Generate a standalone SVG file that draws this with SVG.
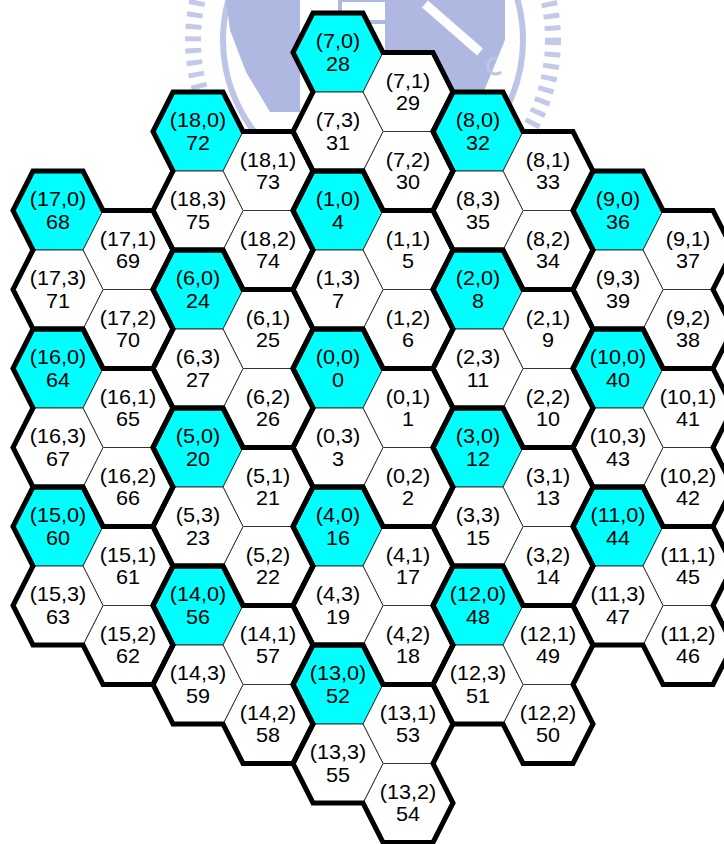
<svg xmlns="http://www.w3.org/2000/svg" width="724" height="844" viewBox="0 0 724 844">
<style>
.w{fill:#ffffff;stroke:#333333;stroke-width:1}
.c{fill:#00ffff;stroke:#333333;stroke-width:1}
.t{font-family:"Liberation Sans",Arial,sans-serif;font-size:20px;text-anchor:middle;fill:#000000}
.cl{fill:none;stroke:#000000;stroke-width:5;stroke-linejoin:miter}
</style>
<defs>
<polygon id="hex" points="45,0 25,39.5 -25,39.5 -45,0 -25,-39.5 25,-39.5"/>
<path id="clu" d="M-45,0 L-25,-39.5 L25,-39.5 L45,0 L95,0 L115,39.5 L95,79 L115,118.5 L95,158 L45,158 L25,118.5 L-25,118.5 L-45,79 L-25,39.5 Z"/>
</defs>
<rect x="0" y="0" width="724" height="844" fill="#ffffff"/>
<g id="watermark">
<circle cx="373" cy="40" r="180" fill="none" stroke="#c3cae8" stroke-width="16" stroke-dasharray="5 7"/>
<circle cx="373" cy="40" r="150" fill="none" stroke="#bcc4e7" stroke-width="6"/>
<polygon fill="#aeb8e1" points="226,0 300,0 300,112 270,112 246,72 230,30"/>
<polygon fill="#aeb8e1" points="385,0 505,0 505,40 482,96 440,112 385,112"/>
<line x1="425" y1="4" x2="480" y2="52" stroke="#ffffff" stroke-width="9"/>
<rect x="340" y="0" width="60" height="22" fill="none" stroke="#aeb8e1" stroke-width="4"/>
<path d="M497,58 a8,8 0 1 0 4,14" fill="none" stroke="#bcc4e7" stroke-width="3"/>
</g>
<g id="cells">
<g id="n0_0" transform="translate(338,368.5)"><use href="#hex" class="c"/><text class="t" y="-4.5" transform="scale(1.08,1)">(0,0)</text><text class="t" y="18.5" transform="scale(1.08,1)">0</text></g>
<g id="n0_1" transform="translate(408,408)"><use href="#hex" class="w"/><text class="t" y="-4.5" transform="scale(1.08,1)">(0,1)</text><text class="t" y="18.5" transform="scale(1.08,1)">1</text></g>
<g id="n0_2" transform="translate(408,487)"><use href="#hex" class="w"/><text class="t" y="-4.5" transform="scale(1.08,1)">(0,2)</text><text class="t" y="18.5" transform="scale(1.08,1)">2</text></g>
<g id="n0_3" transform="translate(338,447.5)"><use href="#hex" class="w"/><text class="t" y="-4.5" transform="scale(1.08,1)">(0,3)</text><text class="t" y="18.5" transform="scale(1.08,1)">3</text></g>

<g id="n1_0" transform="translate(338,210.5)"><use href="#hex" class="c"/><text class="t" y="-4.5" transform="scale(1.08,1)">(1,0)</text><text class="t" y="18.5" transform="scale(1.08,1)">4</text></g>
<g id="n1_1" transform="translate(408,250)"><use href="#hex" class="w"/><text class="t" y="-4.5" transform="scale(1.08,1)">(1,1)</text><text class="t" y="18.5" transform="scale(1.08,1)">5</text></g>
<g id="n1_2" transform="translate(408,329)"><use href="#hex" class="w"/><text class="t" y="-4.5" transform="scale(1.08,1)">(1,2)</text><text class="t" y="18.5" transform="scale(1.08,1)">6</text></g>
<g id="n1_3" transform="translate(338,289.5)"><use href="#hex" class="w"/><text class="t" y="-4.5" transform="scale(1.08,1)">(1,3)</text><text class="t" y="18.5" transform="scale(1.08,1)">7</text></g>

<g id="n2_0" transform="translate(478,289.5)"><use href="#hex" class="c"/><text class="t" y="-4.5" transform="scale(1.08,1)">(2,0)</text><text class="t" y="18.5" transform="scale(1.08,1)">8</text></g>
<g id="n2_1" transform="translate(548,329)"><use href="#hex" class="w"/><text class="t" y="-4.5" transform="scale(1.08,1)">(2,1)</text><text class="t" y="18.5" transform="scale(1.08,1)">9</text></g>
<g id="n2_2" transform="translate(548,408)"><use href="#hex" class="w"/><text class="t" y="-4.5" transform="scale(1.08,1)">(2,2)</text><text class="t" y="18.5" transform="scale(1.08,1)">10</text></g>
<g id="n2_3" transform="translate(478,368.5)"><use href="#hex" class="w"/><text class="t" y="-4.5" transform="scale(1.08,1)">(2,3)</text><text class="t" y="18.5" transform="scale(1.08,1)">11</text></g>

<g id="n3_0" transform="translate(478,447.5)"><use href="#hex" class="c"/><text class="t" y="-4.5" transform="scale(1.08,1)">(3,0)</text><text class="t" y="18.5" transform="scale(1.08,1)">12</text></g>
<g id="n3_1" transform="translate(548,487)"><use href="#hex" class="w"/><text class="t" y="-4.5" transform="scale(1.08,1)">(3,1)</text><text class="t" y="18.5" transform="scale(1.08,1)">13</text></g>
<g id="n3_2" transform="translate(548,566)"><use href="#hex" class="w"/><text class="t" y="-4.5" transform="scale(1.08,1)">(3,2)</text><text class="t" y="18.5" transform="scale(1.08,1)">14</text></g>
<g id="n3_3" transform="translate(478,526.5)"><use href="#hex" class="w"/><text class="t" y="-4.5" transform="scale(1.08,1)">(3,3)</text><text class="t" y="18.5" transform="scale(1.08,1)">15</text></g>

<g id="n4_0" transform="translate(338,526.5)"><use href="#hex" class="c"/><text class="t" y="-4.5" transform="scale(1.08,1)">(4,0)</text><text class="t" y="18.5" transform="scale(1.08,1)">16</text></g>
<g id="n4_1" transform="translate(408,566)"><use href="#hex" class="w"/><text class="t" y="-4.5" transform="scale(1.08,1)">(4,1)</text><text class="t" y="18.5" transform="scale(1.08,1)">17</text></g>
<g id="n4_2" transform="translate(408,645)"><use href="#hex" class="w"/><text class="t" y="-4.5" transform="scale(1.08,1)">(4,2)</text><text class="t" y="18.5" transform="scale(1.08,1)">18</text></g>
<g id="n4_3" transform="translate(338,605.5)"><use href="#hex" class="w"/><text class="t" y="-4.5" transform="scale(1.08,1)">(4,3)</text><text class="t" y="18.5" transform="scale(1.08,1)">19</text></g>

<g id="n5_0" transform="translate(198,447.5)"><use href="#hex" class="c"/><text class="t" y="-4.5" transform="scale(1.08,1)">(5,0)</text><text class="t" y="18.5" transform="scale(1.08,1)">20</text></g>
<g id="n5_1" transform="translate(268,487)"><use href="#hex" class="w"/><text class="t" y="-4.5" transform="scale(1.08,1)">(5,1)</text><text class="t" y="18.5" transform="scale(1.08,1)">21</text></g>
<g id="n5_2" transform="translate(268,566)"><use href="#hex" class="w"/><text class="t" y="-4.5" transform="scale(1.08,1)">(5,2)</text><text class="t" y="18.5" transform="scale(1.08,1)">22</text></g>
<g id="n5_3" transform="translate(198,526.5)"><use href="#hex" class="w"/><text class="t" y="-4.5" transform="scale(1.08,1)">(5,3)</text><text class="t" y="18.5" transform="scale(1.08,1)">23</text></g>

<g id="n6_0" transform="translate(198,289.5)"><use href="#hex" class="c"/><text class="t" y="-4.5" transform="scale(1.08,1)">(6,0)</text><text class="t" y="18.5" transform="scale(1.08,1)">24</text></g>
<g id="n6_1" transform="translate(268,329)"><use href="#hex" class="w"/><text class="t" y="-4.5" transform="scale(1.08,1)">(6,1)</text><text class="t" y="18.5" transform="scale(1.08,1)">25</text></g>
<g id="n6_2" transform="translate(268,408)"><use href="#hex" class="w"/><text class="t" y="-4.5" transform="scale(1.08,1)">(6,2)</text><text class="t" y="18.5" transform="scale(1.08,1)">26</text></g>
<g id="n6_3" transform="translate(198,368.5)"><use href="#hex" class="w"/><text class="t" y="-4.5" transform="scale(1.08,1)">(6,3)</text><text class="t" y="18.5" transform="scale(1.08,1)">27</text></g>

<g id="n7_0" transform="translate(338,52.5)"><use href="#hex" class="c"/><text class="t" y="-4.5" transform="scale(1.08,1)">(7,0)</text><text class="t" y="18.5" transform="scale(1.08,1)">28</text></g>
<g id="n7_1" transform="translate(408,92)"><use href="#hex" class="w"/><text class="t" y="-4.5" transform="scale(1.08,1)">(7,1)</text><text class="t" y="18.5" transform="scale(1.08,1)">29</text></g>
<g id="n7_2" transform="translate(408,171)"><use href="#hex" class="w"/><text class="t" y="-4.5" transform="scale(1.08,1)">(7,2)</text><text class="t" y="18.5" transform="scale(1.08,1)">30</text></g>
<g id="n7_3" transform="translate(338,131.5)"><use href="#hex" class="w"/><text class="t" y="-4.5" transform="scale(1.08,1)">(7,3)</text><text class="t" y="18.5" transform="scale(1.08,1)">31</text></g>

<g id="n8_0" transform="translate(478,131.5)"><use href="#hex" class="c"/><text class="t" y="-4.5" transform="scale(1.08,1)">(8,0)</text><text class="t" y="18.5" transform="scale(1.08,1)">32</text></g>
<g id="n8_1" transform="translate(548,171)"><use href="#hex" class="w"/><text class="t" y="-4.5" transform="scale(1.08,1)">(8,1)</text><text class="t" y="18.5" transform="scale(1.08,1)">33</text></g>
<g id="n8_2" transform="translate(548,250)"><use href="#hex" class="w"/><text class="t" y="-4.5" transform="scale(1.08,1)">(8,2)</text><text class="t" y="18.5" transform="scale(1.08,1)">34</text></g>
<g id="n8_3" transform="translate(478,210.5)"><use href="#hex" class="w"/><text class="t" y="-4.5" transform="scale(1.08,1)">(8,3)</text><text class="t" y="18.5" transform="scale(1.08,1)">35</text></g>

<g id="n9_0" transform="translate(618,210.5)"><use href="#hex" class="c"/><text class="t" y="-4.5" transform="scale(1.08,1)">(9,0)</text><text class="t" y="18.5" transform="scale(1.08,1)">36</text></g>
<g id="n9_1" transform="translate(688,250)"><use href="#hex" class="w"/><text class="t" y="-4.5" transform="scale(1.08,1)">(9,1)</text><text class="t" y="18.5" transform="scale(1.08,1)">37</text></g>
<g id="n9_2" transform="translate(688,329)"><use href="#hex" class="w"/><text class="t" y="-4.5" transform="scale(1.08,1)">(9,2)</text><text class="t" y="18.5" transform="scale(1.08,1)">38</text></g>
<g id="n9_3" transform="translate(618,289.5)"><use href="#hex" class="w"/><text class="t" y="-4.5" transform="scale(1.08,1)">(9,3)</text><text class="t" y="18.5" transform="scale(1.08,1)">39</text></g>

<g id="n10_0" transform="translate(618,368.5)"><use href="#hex" class="c"/><text class="t" y="-4.5" transform="scale(1.08,1)">(10,0)</text><text class="t" y="18.5" transform="scale(1.08,1)">40</text></g>
<g id="n10_1" transform="translate(688,408)"><use href="#hex" class="w"/><text class="t" y="-4.5" transform="scale(1.08,1)">(10,1)</text><text class="t" y="18.5" transform="scale(1.08,1)">41</text></g>
<g id="n10_2" transform="translate(688,487)"><use href="#hex" class="w"/><text class="t" y="-4.5" transform="scale(1.08,1)">(10,2)</text><text class="t" y="18.5" transform="scale(1.08,1)">42</text></g>
<g id="n10_3" transform="translate(618,447.5)"><use href="#hex" class="w"/><text class="t" y="-4.5" transform="scale(1.08,1)">(10,3)</text><text class="t" y="18.5" transform="scale(1.08,1)">43</text></g>

<g id="n11_0" transform="translate(618,526.5)"><use href="#hex" class="c"/><text class="t" y="-4.5" transform="scale(1.08,1)">(11,0)</text><text class="t" y="18.5" transform="scale(1.08,1)">44</text></g>
<g id="n11_1" transform="translate(688,566)"><use href="#hex" class="w"/><text class="t" y="-4.5" transform="scale(1.08,1)">(11,1)</text><text class="t" y="18.5" transform="scale(1.08,1)">45</text></g>
<g id="n11_2" transform="translate(688,645)"><use href="#hex" class="w"/><text class="t" y="-4.5" transform="scale(1.08,1)">(11,2)</text><text class="t" y="18.5" transform="scale(1.08,1)">46</text></g>
<g id="n11_3" transform="translate(618,605.5)"><use href="#hex" class="w"/><text class="t" y="-4.5" transform="scale(1.08,1)">(11,3)</text><text class="t" y="18.5" transform="scale(1.08,1)">47</text></g>

<g id="n12_0" transform="translate(478,605.5)"><use href="#hex" class="c"/><text class="t" y="-4.5" transform="scale(1.08,1)">(12,0)</text><text class="t" y="18.5" transform="scale(1.08,1)">48</text></g>
<g id="n12_1" transform="translate(548,645)"><use href="#hex" class="w"/><text class="t" y="-4.5" transform="scale(1.08,1)">(12,1)</text><text class="t" y="18.5" transform="scale(1.08,1)">49</text></g>
<g id="n12_2" transform="translate(548,724)"><use href="#hex" class="w"/><text class="t" y="-4.5" transform="scale(1.08,1)">(12,2)</text><text class="t" y="18.5" transform="scale(1.08,1)">50</text></g>
<g id="n12_3" transform="translate(478,684.5)"><use href="#hex" class="w"/><text class="t" y="-4.5" transform="scale(1.08,1)">(12,3)</text><text class="t" y="18.5" transform="scale(1.08,1)">51</text></g>

<g id="n13_0" transform="translate(338,684.5)"><use href="#hex" class="c"/><text class="t" y="-4.5" transform="scale(1.08,1)">(13,0)</text><text class="t" y="18.5" transform="scale(1.08,1)">52</text></g>
<g id="n13_1" transform="translate(408,724)"><use href="#hex" class="w"/><text class="t" y="-4.5" transform="scale(1.08,1)">(13,1)</text><text class="t" y="18.5" transform="scale(1.08,1)">53</text></g>
<g id="n13_2" transform="translate(408,803)"><use href="#hex" class="w"/><text class="t" y="-4.5" transform="scale(1.08,1)">(13,2)</text><text class="t" y="18.5" transform="scale(1.08,1)">54</text></g>
<g id="n13_3" transform="translate(338,763.5)"><use href="#hex" class="w"/><text class="t" y="-4.5" transform="scale(1.08,1)">(13,3)</text><text class="t" y="18.5" transform="scale(1.08,1)">55</text></g>

<g id="n14_0" transform="translate(198,605.5)"><use href="#hex" class="c"/><text class="t" y="-4.5" transform="scale(1.08,1)">(14,0)</text><text class="t" y="18.5" transform="scale(1.08,1)">56</text></g>
<g id="n14_1" transform="translate(268,645)"><use href="#hex" class="w"/><text class="t" y="-4.5" transform="scale(1.08,1)">(14,1)</text><text class="t" y="18.5" transform="scale(1.08,1)">57</text></g>
<g id="n14_2" transform="translate(268,724)"><use href="#hex" class="w"/><text class="t" y="-4.5" transform="scale(1.08,1)">(14,2)</text><text class="t" y="18.5" transform="scale(1.08,1)">58</text></g>
<g id="n14_3" transform="translate(198,684.5)"><use href="#hex" class="w"/><text class="t" y="-4.5" transform="scale(1.08,1)">(14,3)</text><text class="t" y="18.5" transform="scale(1.08,1)">59</text></g>

<g id="n15_0" transform="translate(58,526.5)"><use href="#hex" class="c"/><text class="t" y="-4.5" transform="scale(1.08,1)">(15,0)</text><text class="t" y="18.5" transform="scale(1.08,1)">60</text></g>
<g id="n15_1" transform="translate(128,566)"><use href="#hex" class="w"/><text class="t" y="-4.5" transform="scale(1.08,1)">(15,1)</text><text class="t" y="18.5" transform="scale(1.08,1)">61</text></g>
<g id="n15_2" transform="translate(128,645)"><use href="#hex" class="w"/><text class="t" y="-4.5" transform="scale(1.08,1)">(15,2)</text><text class="t" y="18.5" transform="scale(1.08,1)">62</text></g>
<g id="n15_3" transform="translate(58,605.5)"><use href="#hex" class="w"/><text class="t" y="-4.5" transform="scale(1.08,1)">(15,3)</text><text class="t" y="18.5" transform="scale(1.08,1)">63</text></g>

<g id="n16_0" transform="translate(58,368.5)"><use href="#hex" class="c"/><text class="t" y="-4.5" transform="scale(1.08,1)">(16,0)</text><text class="t" y="18.5" transform="scale(1.08,1)">64</text></g>
<g id="n16_1" transform="translate(128,408)"><use href="#hex" class="w"/><text class="t" y="-4.5" transform="scale(1.08,1)">(16,1)</text><text class="t" y="18.5" transform="scale(1.08,1)">65</text></g>
<g id="n16_2" transform="translate(128,487)"><use href="#hex" class="w"/><text class="t" y="-4.5" transform="scale(1.08,1)">(16,2)</text><text class="t" y="18.5" transform="scale(1.08,1)">66</text></g>
<g id="n16_3" transform="translate(58,447.5)"><use href="#hex" class="w"/><text class="t" y="-4.5" transform="scale(1.08,1)">(16,3)</text><text class="t" y="18.5" transform="scale(1.08,1)">67</text></g>

<g id="n17_0" transform="translate(58,210.5)"><use href="#hex" class="c"/><text class="t" y="-4.5" transform="scale(1.08,1)">(17,0)</text><text class="t" y="18.5" transform="scale(1.08,1)">68</text></g>
<g id="n17_1" transform="translate(128,250)"><use href="#hex" class="w"/><text class="t" y="-4.5" transform="scale(1.08,1)">(17,1)</text><text class="t" y="18.5" transform="scale(1.08,1)">69</text></g>
<g id="n17_2" transform="translate(128,329)"><use href="#hex" class="w"/><text class="t" y="-4.5" transform="scale(1.08,1)">(17,2)</text><text class="t" y="18.5" transform="scale(1.08,1)">70</text></g>
<g id="n17_3" transform="translate(58,289.5)"><use href="#hex" class="w"/><text class="t" y="-4.5" transform="scale(1.08,1)">(17,3)</text><text class="t" y="18.5" transform="scale(1.08,1)">71</text></g>

<g id="n18_0" transform="translate(198,131.5)"><use href="#hex" class="c"/><text class="t" y="-4.5" transform="scale(1.08,1)">(18,0)</text><text class="t" y="18.5" transform="scale(1.08,1)">72</text></g>
<g id="n18_1" transform="translate(268,171)"><use href="#hex" class="w"/><text class="t" y="-4.5" transform="scale(1.08,1)">(18,1)</text><text class="t" y="18.5" transform="scale(1.08,1)">73</text></g>
<g id="n18_2" transform="translate(268,250)"><use href="#hex" class="w"/><text class="t" y="-4.5" transform="scale(1.08,1)">(18,2)</text><text class="t" y="18.5" transform="scale(1.08,1)">74</text></g>
<g id="n18_3" transform="translate(198,210.5)"><use href="#hex" class="w"/><text class="t" y="-4.5" transform="scale(1.08,1)">(18,3)</text><text class="t" y="18.5" transform="scale(1.08,1)">75</text></g>
</g>
<g id="clusters">
<use href="#clu" class="cl" x="338" y="368.5"/>
<use href="#clu" class="cl" x="338" y="210.5"/>
<use href="#clu" class="cl" x="478" y="289.5"/>
<use href="#clu" class="cl" x="478" y="447.5"/>
<use href="#clu" class="cl" x="338" y="526.5"/>
<use href="#clu" class="cl" x="198" y="447.5"/>
<use href="#clu" class="cl" x="198" y="289.5"/>
<use href="#clu" class="cl" x="338" y="52.5"/>
<use href="#clu" class="cl" x="478" y="131.5"/>
<use href="#clu" class="cl" x="618" y="210.5"/>
<use href="#clu" class="cl" x="618" y="368.5"/>
<use href="#clu" class="cl" x="618" y="526.5"/>
<use href="#clu" class="cl" x="478" y="605.5"/>
<use href="#clu" class="cl" x="338" y="684.5"/>
<use href="#clu" class="cl" x="198" y="605.5"/>
<use href="#clu" class="cl" x="58" y="526.5"/>
<use href="#clu" class="cl" x="58" y="368.5"/>
<use href="#clu" class="cl" x="58" y="210.5"/>
<use href="#clu" class="cl" x="198" y="131.5"/>
</g>
</svg>
